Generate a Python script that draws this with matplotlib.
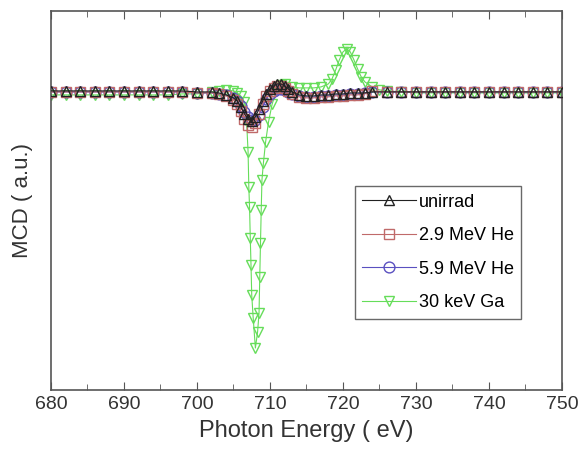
import numpy as np
import matplotlib
matplotlib.use("Agg")
import matplotlib.pyplot as plt
from matplotlib.ticker import MultipleLocator

plt.rcParams['font.family'] = ['Liberation Sans', 'DejaVu Sans']

# photon energy grid for the He / unirradiated spectra (eV)
energy = [680, 682, 684, 686, 688, 690, 692, 694, 696, 698, 700, 702, 703, 704,
          705, 705.5, 706, 706.5, 707, 707.5, 708, 708.5, 709, 709.5, 710,
          710.5, 711, 711.5, 712, 712.5, 713, 714, 715, 716, 717, 718, 719,
          720, 721, 722, 723, 724, 726, 728, 730, 732, 734, 736, 738, 740,
          742, 744, 746, 748, 750]

mcd_unirrad = [0.1, 0.1, 0.1, 0.1, 0.1, 0.1, 0.1, 0.1, 0.1, 0.1, 0.0, 0.0, -0.1, -0.3,
               -0.6, -0.9, -1.5, -2.2, -2.7, -2.9, -2.5, -1.7, -0.9, -0.2, 0.3,
               0.6, 0.8, 0.8, 0.6, 0.3, 0.0, -0.3, -0.4, -0.4, -0.3, -0.3, -0.2,
               -0.2, -0.1, -0.1, -0.1, 0.0, 0.0, 0.0, 0.0, 0.0, 0.0, 0.0, 0.0, 0.0,
               0.0, 0.0, 0.0, 0.0, 0.0]

mcd_he29 = [0.0, 0.0, 0.0, 0.0, 0.0, 0.0, 0.0, 0.0, 0.0, 0.0, -0.1, -0.1, -0.2, -0.4,
            -0.8, -1.2, -1.9, -2.7, -3.3, -3.5, -3.1, -2.2, -1.2, -0.4, 0.1,
            0.4, 0.6, 0.6, 0.4, 0.1, -0.2, -0.5, -0.6, -0.6, -0.5, -0.5, -0.4,
            -0.4, -0.3, -0.3, -0.2, 0.1, 0.0, 0.0, 0.0, 0.0, 0.0, 0.0, 0.0, 0.0,
            0.0, 0.0, 0.0, 0.0, 0.0]

mcd_he59 = [0.0, 0.0, 0.0, 0.0, 0.0, 0.0, 0.0, 0.0, 0.0, 0.0, -0.1, -0.1, -0.2, -0.3,
            -0.6, -0.9, -1.4, -2.0, -2.5, -2.8, -2.8, -2.3, -1.5, -0.7, -0.2,
            0.1, 0.3, 0.3, 0.2, 0.0, -0.2, -0.4, -0.5, -0.5, -0.4, -0.4, -0.3,
            -0.3, -0.2, -0.2, -0.1, 0.0, 0.0, 0.0, 0.0, 0.0, 0.0, 0.0, 0.0, 0.0,
            0.0, 0.0, 0.0, 0.0, 0.0]

# 30 keV Ga spectrum has a denser grid around the L3 dip
energy_ga = [680, 682, 684, 686, 688, 690, 692, 694, 696, 698, 700, 702, 703, 704,
             705, 705.5, 706, 706.5, 706.8, 707.0, 707.1, 707.2, 707.3, 707.4,
             707.5, 707.7, 708.0, 708.3, 708.5, 708.6, 708.7, 708.8, 708.9,
             709.1, 709.4, 709.8, 710.3, 711, 711.5, 712, 713, 714, 715, 716,
             717, 718, 718.5, 719, 719.5, 720, 720.5, 721, 721.5, 722, 722.5,
             723, 724, 725, 726, 728, 730, 732, 734, 736, 738, 740, 742, 744,
             746, 748, 750]

mcd_ga = [-0.3, -0.3, -0.3, -0.3, -0.3, -0.3, -0.3, -0.3, -0.3, -0.2, -0.2, 0.0, 0.1, 0.2,
          0.1, -0.1, -0.4, -1.0, -3.0, -6.0, -9.5, -11.5, -14.6, -17.3,
          -20.3, -22.6, -25.6, -24.0, -22.1, -18.5, -15.1, -11.8, -8.8,
          -7.1, -5.0, -3.0, -1.2, 0.3, 0.7, 0.8, 0.5, 0.4, 0.4, 0.4,
          0.5, 0.8, 1.3, 2.2, 3.2, 4.0, 4.3, 4.0, 3.2, 2.3, 1.5,
          1.0, 0.5, 0.2, 0.1, 0.0, -0.1, -0.1, -0.1, -0.1, -0.1, -0.1, -0.1, -0.1,
          -0.1, -0.1, -0.1]

labels = ["unirrad", "2.9 MeV He", "5.9 MeV He", "30 keV Ga"]

fig = plt.figure(figsize=(5.82, 4.53), dpi=100)
ax = fig.add_axes([0.0876, 0.139, 0.878, 0.837])

ms = 7.8
lw = 0.8
ax.plot(energy_ga, mcd_ga, marker='v', ms=ms, mfc='none', mec='#66dd5a',
        color='#66dd5a', lw=lw, label=labels[3], zorder=1)
ax.plot(energy, mcd_he59, marker='o', ms=ms, mfc='none', mec='#5a50c0',
        color='#5a50c0', lw=lw, label=labels[2], zorder=2)
ax.plot(energy, mcd_he29, marker='s', ms=ms - 1, mfc='none', mec='#c06a6a',
        color='#c06a6a', lw=lw, label=labels[1], zorder=3)
ax.plot(energy, mcd_unirrad, marker='^', ms=ms, mfc='none', mec='#222222',
        color='#222222', lw=lw, label=labels[0], zorder=4)

ax.set_xlim(680, 750)
ax.set_ylim(-29.8, 8.1)
ax.xaxis.set_major_locator(MultipleLocator(10))
ax.xaxis.set_minor_locator(MultipleLocator(5))
ax.tick_params(axis='x', which='both', direction='in', top=True, labelsize=14,
               labelcolor='#333333', color='#555555', pad=4.5)
ax.tick_params(axis='x', which='major', length=6)
ax.tick_params(axis='x', which='minor', length=4)
ax.set_yticks([])
for s in ax.spines.values():
    s.set_color('#555555')
    s.set_linewidth(1.2)

ax.set_xlabel("Photon Energy ( eV)", fontsize=17, color='#333333', labelpad=5)
ax.set_ylabel("MCD ( a.u.)", fontsize=16, color='#333333', labelpad=13)

h, l = ax.get_legend_handles_labels()
leg = ax.legend(h[::-1], l[::-1], loc='upper left', bbox_to_anchor=(0.577, 0.561),
                fontsize=13, frameon=True, fancybox=False, edgecolor='#444444',
                handlelength=3.0, handletextpad=0.15, labelspacing=0.92,
                borderpad=0.4)
leg.get_frame().set_linewidth(1.0)

fig.savefig("out.png", dpi=100)
